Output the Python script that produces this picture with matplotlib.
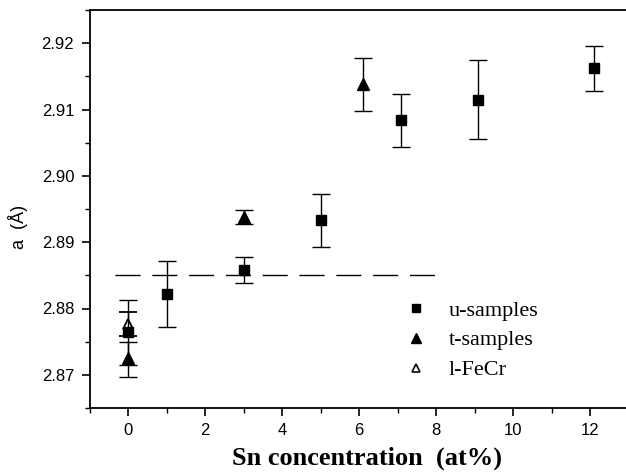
import matplotlib
matplotlib.use("Agg")
import matplotlib.pyplot as plt
from matplotlib.ticker import MultipleLocator
from matplotlib.lines import Line2D

# Data
u_x = [0, 1, 3, 5, 7.1, 9.1, 12.1]
u_y = [2.8764, 2.8822, 2.8858, 2.8933, 2.9084, 2.9115, 2.9162]
u_err = [0.0049, 0.0050, 0.0020, 0.0040, 0.0040, 0.0060, 0.0034]

t_x = [0, 3, 6.1]
t_y = [2.8725, 2.8938, 2.9138]
t_err_lo = [0.0029, 0.0011, 0.0041]
t_err_hi = [0.0024, 0.0011, 0.0040]

l_x = [0]
l_y = [2.8776]
l_err = [0.0018]

ref_x = [-0.35, 8.25]
ref_y = [2.885, 2.885]

x_ticks = [0, 2, 4, 6, 8, 10, 12]
y_ticks = [2.87, 2.88, 2.89, 2.90, 2.91, 2.92]

fig = plt.figure(figsize=(6.26, 4.75), dpi=100)
ax = fig.add_axes([89.5 / 626, (475 - 408) / 475, 539 / 626, 398 / 475])

ax.plot(ref_x, ref_y, color='black', lw=1.0, dashes=(18, 8.5), zorder=1)

ax.errorbar(u_x, u_y, yerr=u_err, fmt='s', color='black', ms=7, lw=1.0,
            capsize=6.5, capthick=1.0, zorder=3, label='u-samples')
ax.errorbar(t_x, t_y, yerr=[t_err_lo, t_err_hi], fmt='^', color='black', ms=8, lw=1.0,
            capsize=6.5, capthick=1.0, zorder=3, label='t-samples')
ax.errorbar(l_x, l_y, yerr=l_err, fmt='^', color='black', mfc='white', mec='black', mew=1.3,
            ms=7, lw=1.0, capsize=6.5, capthick=1.0, zorder=2, label='l-FeCr')

ax.set_xlim(-1, 13)
ax.set_ylim(2.865, 2.925)
ax.set_xticks(x_ticks)
ax.set_xticklabels([str(v) for v in x_ticks])
ax.set_yticks(y_ticks)
ax.set_yticklabels([f"{v:.2f}" for v in y_ticks])
ax.xaxis.set_minor_locator(MultipleLocator(1))
ax.yaxis.set_minor_locator(MultipleLocator(0.005))

for lab in ax.get_xticklabels() + ax.get_yticklabels():
    lab.set_fontfamily('Liberation Sans')
    lab.set_fontsize(12)

ax.tick_params(which='major', direction='out', length=6, width=1.2, top=False, right=False)
ax.tick_params(which='minor', direction='out', length=3.5, width=1.0, top=False, right=False)
ax.tick_params(axis='x', which='major', pad=5)
ax.tick_params(axis='y', which='major', pad=5)

for s in ['left', 'top', 'bottom']:
    ax.spines[s].set_linewidth(1.3)
ax.spines['right'].set_visible(False)

ax.set_xlabel('Sn concentration  (at%)', fontfamily='Liberation Serif', fontweight='bold', fontsize=19)
ax.xaxis.set_label_coords(0.515, -0.096)
ax.set_ylabel('a  (Å)', fontfamily='Liberation Sans', fontsize=13)
ax.yaxis.set_label_coords(-0.114, 0.455)

h = [Line2D([], [], marker='s', ls='none', color='black', ms=6),
     Line2D([], [], marker='^', ls='none', color='black', ms=6.5),
     Line2D([], [], marker='^', ls='none', color='black', mfc='white', mew=1.2, ms=5.5)]
leg = ax.legend(h, ['u-samples', 't-samples', 'l-FeCr'], loc='upper left',
                bbox_to_anchor=((405 - 89.5) / 539, (408 - 300) / 398),
                frameon=False, prop={'family': 'Liberation Serif', 'size': 16},
                handlelength=1.0, handletextpad=0.95, labelspacing=0.42,
                borderaxespad=0, borderpad=0)

fig.savefig('out.png', dpi=100)
